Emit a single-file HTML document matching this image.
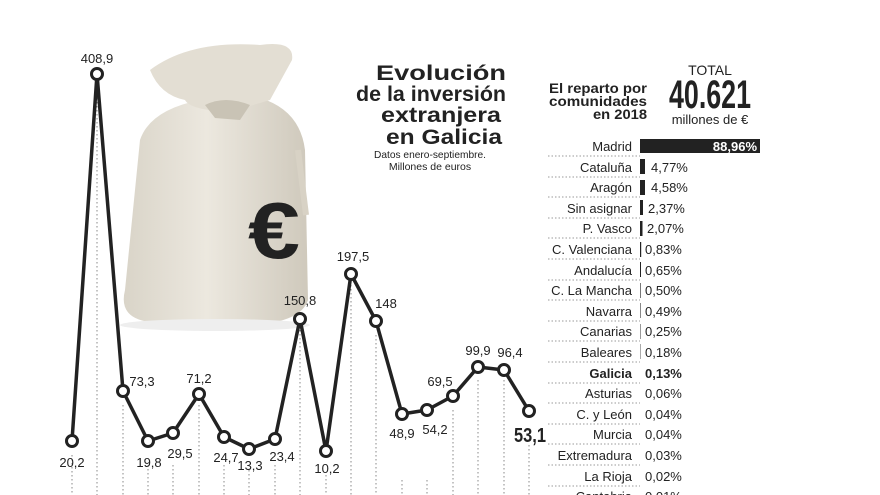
<!DOCTYPE html>
<html><head><meta charset="utf-8"><style>
html,body{margin:0;padding:0;background:#fff}
svg{display:block;font-family:"Liberation Sans",sans-serif}
</style></head><body>
<svg width="880" height="495" viewBox="0 0 880 495" xmlns="http://www.w3.org/2000/svg">
<defs>
<linearGradient id="bg1" x1="0" y1="0" x2="1" y2="0">
<stop offset="0" stop-color="#d9d4c8"/><stop offset="0.45" stop-color="#ece8df"/><stop offset="1" stop-color="#cfc9bc"/>
</linearGradient>
</defs>
<!-- bag -->
<path d="M140 140 Q150 110 200 100 L260 98 Q300 110 305 150 L308 300 Q300 325 240 325 L150 322 Q118 318 125 290 Z" fill="url(#bg1)"/>
<path d="M150 70 Q190 40 260 45 Q295 40 292 60 L270 100 L230 112 Q190 110 185 100 Q160 95 150 70 Z" fill="#e3ded3"/>
<path d="M205 105 Q225 95 250 105 L240 120 L215 118 Z" fill="#c9c3b5"/>
<path d="M298 150 L306 215" stroke="#d8d2c5" stroke-width="6"/>
<text x="248" y="258" font-size="80" font-weight="bold" fill="#222" textLength="52" lengthAdjust="spacingAndGlyphs">€</text>
<ellipse cx="215" cy="325" rx="95" ry="6" fill="#eee"/>
<!-- dotted verticals -->
<g stroke="#888" stroke-width="1" stroke-dasharray="1.5,2.5">
<line x1="72" y1="455" x2="72" y2="495"/><line x1="97" y1="90" x2="97" y2="495"/><line x1="123" y1="405" x2="123" y2="495"/>
<line x1="148" y1="465" x2="148" y2="495"/><line x1="173" y1="465" x2="173" y2="495"/><line x1="199" y1="405" x2="199" y2="495"/>
<line x1="224" y1="465" x2="224" y2="495"/><line x1="249" y1="470" x2="249" y2="495"/><line x1="275" y1="465" x2="275" y2="495"/>
<line x1="300" y1="330" x2="300" y2="495"/><line x1="326" y1="475" x2="326" y2="495"/><line x1="351" y1="285" x2="351" y2="495"/>
<line x1="376" y1="335" x2="376" y2="495"/><line x1="402" y1="480" x2="402" y2="495"/><line x1="427" y1="480" x2="427" y2="495"/>
<line x1="453" y1="410" x2="453" y2="495"/><line x1="478" y1="380" x2="478" y2="495"/><line x1="504" y1="380" x2="504" y2="495"/>
<line x1="529" y1="445" x2="529" y2="495"/>
</g>
<!-- line -->
<polyline fill="none" stroke="#222" stroke-width="3.5" stroke-linejoin="round" points="72,441 97,74 123,391 148,441 173,433 199,394 224,437 249,449 275,439 300,319 326,451 351,274 376,321 402,414 427,410 453,396 478,367 504,370 529,411"/>
<g fill="#fff" stroke="#222" stroke-width="3">
<circle cx="72" cy="441" r="5.5"/><circle cx="97" cy="74" r="5.5"/><circle cx="123" cy="391" r="5.5"/><circle cx="148" cy="441" r="5.5"/>
<circle cx="173" cy="433" r="5.5"/><circle cx="199" cy="394" r="5.5"/><circle cx="224" cy="437" r="5.5"/><circle cx="249" cy="449" r="5.5"/>
<circle cx="275" cy="439" r="5.5"/><circle cx="300" cy="319" r="5.5"/><circle cx="326" cy="451" r="5.5"/><circle cx="351" cy="274" r="5.5"/>
<circle cx="376" cy="321" r="5.5"/><circle cx="402" cy="414" r="5.5"/><circle cx="427" cy="410" r="5.5"/><circle cx="453" cy="396" r="5.5"/>
<circle cx="478" cy="367" r="5.5"/><circle cx="504" cy="370" r="5.5"/><circle cx="529" cy="411" r="5.5"/>
</g>
<g font-size="13" fill="#222" text-anchor="middle">
<text x="72" y="467">20,2</text><text x="97" y="63">408,9</text><text x="142" y="386">73,3</text>
<text x="149" y="467">19,8</text><text x="180" y="458">29,5</text><text x="199" y="383">71,2</text>
<text x="226" y="462">24,7</text><text x="250" y="470">13,3</text><text x="282" y="461">23,4</text>
<text x="300" y="305">150,8</text><text x="327" y="473">10,2</text><text x="353" y="261">197,5</text>
<text x="386" y="308">148</text><text x="402" y="438">48,9</text><text x="435" y="434">54,2</text>
<text x="440" y="386">69,5</text><text x="478" y="355">99,9</text><text x="510" y="357">96,4</text>
<text x="530" y="442" font-size="20" font-weight="bold" textLength="32" lengthAdjust="spacingAndGlyphs">53,1</text>
</g>
<!-- title -->
<g text-anchor="middle" font-weight="bold" font-size="21" fill="#222">
<text x="441" y="80" textLength="130" lengthAdjust="spacingAndGlyphs">Evolución</text>
<text x="431" y="101" textLength="150" lengthAdjust="spacingAndGlyphs">de la inversión</text>
<text x="441" y="122" textLength="120" lengthAdjust="spacingAndGlyphs">extranjera</text>
<text x="444" y="144" textLength="116" lengthAdjust="spacingAndGlyphs">en Galicia</text>
</g>
<text x="430" y="158" font-size="10.5" text-anchor="middle" fill="#222" textLength="112" lengthAdjust="spacingAndGlyphs">Datos enero-septiembre.</text>
<text x="430" y="170" font-size="10.5" text-anchor="middle" fill="#222">Millones de euros</text>
<!-- right header -->
<g text-anchor="end" font-weight="bold" font-size="14" fill="#222">
<text x="647" y="93" textLength="98" lengthAdjust="spacingAndGlyphs">El reparto por</text>
<text x="647" y="106" textLength="98" lengthAdjust="spacingAndGlyphs">comunidades</text>
<text x="647" y="119" textLength="54" lengthAdjust="spacingAndGlyphs">en 2018</text>
</g>
<text x="710" y="75" font-size="14" text-anchor="middle" fill="#222">TOTAL</text>
<text x="710" y="108" font-size="40" font-weight="bold" text-anchor="middle" fill="#222" textLength="82" lengthAdjust="spacingAndGlyphs">40.621</text>
<text x="710" y="124" font-size="13" text-anchor="middle" fill="#222">millones de €</text>
<!-- table -->
<g stroke="#999" stroke-dasharray="1.5,2" stroke-width="1">
<line x1="548" y1="156" x2="640" y2="156"/><line x1="548" y1="177" x2="640" y2="177"/><line x1="548" y1="197" x2="640" y2="197"/>
<line x1="548" y1="218" x2="640" y2="218"/><line x1="548" y1="238" x2="640" y2="238"/><line x1="548" y1="259" x2="640" y2="259"/>
<line x1="548" y1="280" x2="640" y2="280"/><line x1="548" y1="300" x2="640" y2="300"/><line x1="548" y1="321" x2="640" y2="321"/>
<line x1="548" y1="341" x2="640" y2="341"/><line x1="548" y1="362" x2="640" y2="362"/><line x1="548" y1="383" x2="640" y2="383"/>
<line x1="548" y1="403" x2="640" y2="403"/><line x1="548" y1="424" x2="640" y2="424"/><line x1="548" y1="444" x2="640" y2="444"/>
<line x1="548" y1="465" x2="640" y2="465"/><line x1="548" y1="486" x2="640" y2="486"/>
</g>
<g fill="#222">
<rect x="640" y="139" width="120" height="14"/>
<rect x="640" y="159" width="5" height="15"/><rect x="640" y="180" width="5" height="15"/>
<rect x="640" y="200" width="3" height="15"/><rect x="640" y="221" width="2.5" height="15"/>
<rect x="640" y="242" width="1.2" height="15"/><rect x="640" y="262" width="1" height="15"/>
<rect x="640" y="283" width="1" height="15" fill="#777"/><rect x="640" y="303" width="1" height="15" fill="#888"/>
<rect x="640" y="324" width="1" height="15" fill="#999"/><rect x="640" y="344" width="1" height="15" fill="#aaa"/>
</g>
<text x="757" y="151" font-size="13" font-weight="bold" fill="#fff" text-anchor="end">88,96%</text>
<g font-size="13" fill="#222" text-anchor="end">
<text x="632" y="151">Madrid</text><text x="632" y="172">Cataluña</text><text x="632" y="192">Aragón</text>
<text x="632" y="213">Sin asignar</text><text x="632" y="233">P. Vasco</text><text x="632" y="254">C. Valenciana</text>
<text x="632" y="275">Andalucía</text><text x="632" y="295">C. La Mancha</text><text x="632" y="316">Navarra</text>
<text x="632" y="336">Canarias</text><text x="632" y="357">Baleares</text><text x="632" y="378" font-weight="bold">Galicia</text>
<text x="632" y="398">Asturias</text><text x="632" y="419">C. y León</text><text x="632" y="439">Murcia</text>
<text x="632" y="460">Extremadura</text><text x="632" y="481">La Rioja</text><text x="632" y="501">Cantabria</text>
</g>
<g font-size="13" fill="#222">
<text x="651" y="172">4,77%</text><text x="651" y="192">4,58%</text><text x="648" y="213">2,37%</text>
<text x="647" y="233">2,07%</text><text x="645" y="254">0,83%</text><text x="645" y="275">0,65%</text>
<text x="645" y="295">0,50%</text><text x="645" y="316">0,49%</text><text x="645" y="336">0,25%</text>
<text x="645" y="357">0,18%</text><text x="645" y="378" font-weight="bold">0,13%</text><text x="645" y="398">0,06%</text>
<text x="645" y="419">0,04%</text><text x="645" y="439">0,04%</text><text x="645" y="460">0,03%</text>
<text x="645" y="481">0,02%</text><text x="645" y="501">0,01%</text>
</g>
</svg>
</body></html>
